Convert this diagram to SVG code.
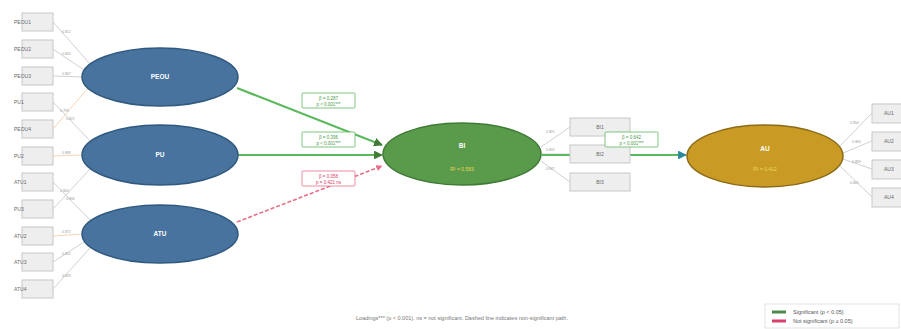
<svg xmlns="http://www.w3.org/2000/svg" width="901" height="329" viewBox="0 0 901 329">
<defs>
<style>
text{font-family:"Liberation Sans",Arial,sans-serif}
.ind rect{fill:#eeeeee;stroke:#c8c8c8;stroke-width:1}
.ind text{font-size:5px;fill:#666}
.ld{stroke:#c4c4c4;stroke-width:0.8;fill:none}
.ldo{stroke:#f0c9a0;stroke-width:0.8;fill:none}
.lv{font-size:3.5px;fill:#999}
.lat text{fill:#ffffff;font-size:6.5px;font-weight:bold;text-anchor:middle}
.lat .r2{fill:#e9d65a;font-size:5px;font-weight:normal}
.blue{fill:#48739f;stroke:#30597f;stroke-width:1.5}
.grn{fill:#5a9a4b;stroke:#3f7a36;stroke-width:1.5}
.gold{fill:#c99b24;stroke:#8b6b16;stroke-width:1.5}
.sig{stroke:#5cb85c;stroke-width:2.2;fill:none}
.ns{stroke:#e8708a;stroke-width:1.6;stroke-dasharray:4 2;fill:none}
.pl rect{fill:#ffffff;stroke-width:0.8}
.pl text{font-size:4.5px;text-anchor:middle}
.pls rect{stroke:#5cb85c}.pls text{fill:#4a9a4a}
.pln rect{stroke:#e8708a}.pln text{fill:#d9406a}
</style>
<marker id="ag" viewBox="0 0 10 10" refX="9" refY="5" markerWidth="4" markerHeight="4" orient="auto"><path d="M0,0L10,5L0,10z" fill="#3f7a36"/></marker>
<marker id="ar" viewBox="0 0 10 10" refX="9" refY="5" markerWidth="4" markerHeight="4" orient="auto"><path d="M0,0L10,5L0,10z" fill="#e8708a"/></marker>
<marker id="at" viewBox="0 0 10 10" refX="9" refY="5" markerWidth="4" markerHeight="4" orient="auto"><path d="M0,0L10,5L0,10z" fill="#2a8a9a"/></marker>
</defs>
<rect width="901" height="329" fill="#ffffff"/>

<g id="connectors">
<line class="ld" x1="53" y1="22" x2="90" y2="64"/>
<line class="ld" x1="53" y1="49" x2="84" y2="70"/>
<line class="ld" x1="53" y1="76" x2="82" y2="77"/>
<line class="ldo" x1="53" y1="129" x2="88" y2="88"/>
<line class="ld" x1="53" y1="102" x2="90" y2="141"/>
<line class="ldo" x1="53" y1="156" x2="82" y2="155"/>
<line class="ld" x1="53" y1="209" x2="90" y2="169"/>
<line class="ld" x1="53" y1="182" x2="90" y2="220"/>
<line class="ldo" x1="53" y1="236" x2="82" y2="234"/>
<line class="ld" x1="53" y1="262" x2="84" y2="242"/>
<line class="ld" x1="53" y1="289" x2="90" y2="248"/>
<text class="lv" x="62" y="33">0.812</text>
<text class="lv" x="62" y="55">0.845</text>
<text class="lv" x="62" y="75">0.867</text>
<text class="lv" x="60" y="112">0.793</text>
<text class="lv" x="66" y="120">0.821</text>
<text class="lv" x="62" y="154">0.883</text>
<text class="lv" x="60" y="192">0.804</text>
<text class="lv" x="66" y="200">0.836</text>
<text class="lv" x="62" y="233">0.872</text>
<text class="lv" x="62" y="255">0.851</text>
<text class="lv" x="62" y="277">0.829</text>

<line class="ld" x1="541" y1="147" x2="570" y2="127"/>
<line class="ld" x1="542" y1="154" x2="570" y2="154"/>
<line class="ld" x1="541" y1="161" x2="570" y2="182"/>
<text class="lv" x="546" y="133">0.891</text>
<text class="lv" x="546" y="151">0.902</text>
<text class="lv" x="546" y="170">0.877</text>

<line class="ld" x1="840" y1="146" x2="872" y2="113"/>
<line class="ld" x1="843" y1="153" x2="872" y2="141"/>
<line class="ld" x1="843" y1="159" x2="872" y2="169"/>
<line class="ld" x1="840" y1="166" x2="872" y2="197"/>
<text class="lv" x="850" y="124">0.856</text>
<text class="lv" x="852" y="143">0.884</text>
<text class="lv" x="852" y="163">0.869</text>
<text class="lv" x="850" y="184">0.841</text>

<line class="sig" x1="237" y1="88" x2="382" y2="145" marker-end="url(#ag)"/>
<line class="sig" x1="238" y1="155" x2="382" y2="155" marker-end="url(#ag)"/>
<line class="ns" x1="237" y1="222" x2="382" y2="166" marker-end="url(#ar)"/>
<line class="sig" x1="542" y1="155" x2="686" y2="155" marker-end="url(#at)"/>
</g>

<g id="ind-left" class="ind">
<g id="PEOU1"><rect x="22" y="13" width="31" height="18"/><text x="14" y="24">PEOU1</text></g>
<g id="PEOU2"><rect x="22" y="40" width="31" height="18"/><text x="14" y="51">PEOU2</text></g>
<g id="PEOU3"><rect x="22" y="67" width="31" height="18"/><text x="14" y="78">PEOU3</text></g>
<g id="PU1"><rect x="22" y="93" width="31" height="18"/><text x="14" y="104">PU1</text></g>
<g id="PEOU4"><rect x="22" y="120" width="31" height="18"/><text x="14" y="131">PEOU4</text></g>
<g id="PU2"><rect x="22" y="147" width="31" height="18"/><text x="14" y="158">PU2</text></g>
<g id="ATU1"><rect x="22" y="173" width="31" height="18"/><text x="14" y="184">ATU1</text></g>
<g id="PU3"><rect x="22" y="200" width="31" height="18"/><text x="14" y="211">PU3</text></g>
<g id="ATU2"><rect x="22" y="227" width="31" height="18"/><text x="14" y="238">ATU2</text></g>
<g id="ATU3"><rect x="22" y="253" width="31" height="18"/><text x="14" y="264">ATU3</text></g>
<g id="ATU4"><rect x="22" y="280" width="31" height="18"/><text x="14" y="291">ATU4</text></g>
</g>

<g id="ind-bi" class="ind">
<g id="BI1"><rect x="570" y="118" width="60" height="18"/><text x="600" y="129" text-anchor="middle">BI1</text></g>
<g id="BI2"><rect x="570" y="145" width="60" height="18"/><text x="600" y="156" text-anchor="middle">BI2</text></g>
<g id="BI3"><rect x="570" y="173" width="60" height="18"/><text x="600" y="184" text-anchor="middle">BI3</text></g>
</g>

<g id="ind-au" class="ind">
<g id="AU1"><rect x="872" y="104" width="34" height="19"/><text x="884" y="115">AU1</text></g>
<g id="AU2"><rect x="872" y="132" width="34" height="19"/><text x="884" y="143">AU2</text></g>
<g id="AU3"><rect x="872" y="160" width="34" height="19"/><text x="884" y="171">AU3</text></g>
<g id="AU4"><rect x="872" y="188" width="34" height="19"/><text x="884" y="199">AU4</text></g>
</g>

<g id="PEOU" class="lat"><ellipse class="blue" cx="160" cy="77" rx="78" ry="29"/><text x="160" y="79">PEOU</text></g>
<g id="PU" class="lat"><ellipse class="blue" cx="160" cy="155" rx="78" ry="30"/><text x="160" y="157">PU</text></g>
<g id="ATU" class="lat"><ellipse class="blue" cx="160" cy="234" rx="78" ry="29"/><text x="160" y="236">ATU</text></g>
<g id="BI" class="lat"><ellipse class="grn" cx="462" cy="154" rx="79" ry="31"/><text x="462" y="148">BI</text><text class="r2" x="462" y="171">R² = 0.583</text></g>
<g id="AU" class="lat"><ellipse class="gold" cx="765" cy="156" rx="78" ry="31"/><text x="765" y="151">AU</text><text class="r2" x="765" y="171">R² = 0.412</text></g>

<g id="path-labels">
<g class="pl pls"><rect x="302" y="93" width="53" height="15" rx="1"/><text x="328.5" y="99.5">β = 0.287</text><text x="328.5" y="105.5">p &lt; 0.001***</text></g>
<g class="pl pls"><rect x="302" y="132" width="53" height="15" rx="1"/><text x="328.5" y="138.5">β = 0.396</text><text x="328.5" y="144.5">p &lt; 0.001***</text></g>
<g class="pl pln"><rect x="302" y="171" width="53" height="15" rx="1"/><text x="328.5" y="177.5">β = 0.058</text><text x="328.5" y="183.5">p = 0.421 ns</text></g>
<g class="pl pls"><rect x="605" y="132" width="53" height="15" rx="1"/><text x="631.5" y="138.5">β = 0.642</text><text x="631.5" y="144.5">p &lt; 0.001***</text></g>
</g>

<text x="462" y="320" font-size="5.5" fill="#777" text-anchor="middle">Loadings*** (p &lt; 0.001). ns = not significant. Dashed line indicates non-significant path.</text>

<g id="legend">
<rect x="765" y="304" width="134" height="24" fill="#ffffff" stroke="#dddddd" stroke-width="0.8"/>
<line x1="772" y1="312" x2="786" y2="312" stroke="#4a8a4a" stroke-width="3"/>
<text x="793" y="314" font-size="5.5" fill="#555">Significant (p &lt; 0.05)</text>
<line x1="772" y1="321" x2="786" y2="321" stroke="#d9406a" stroke-width="3"/>
<text x="793" y="323" font-size="5.5" fill="#555">Not significant (p ≥ 0.05)</text>
</g>
</svg>
